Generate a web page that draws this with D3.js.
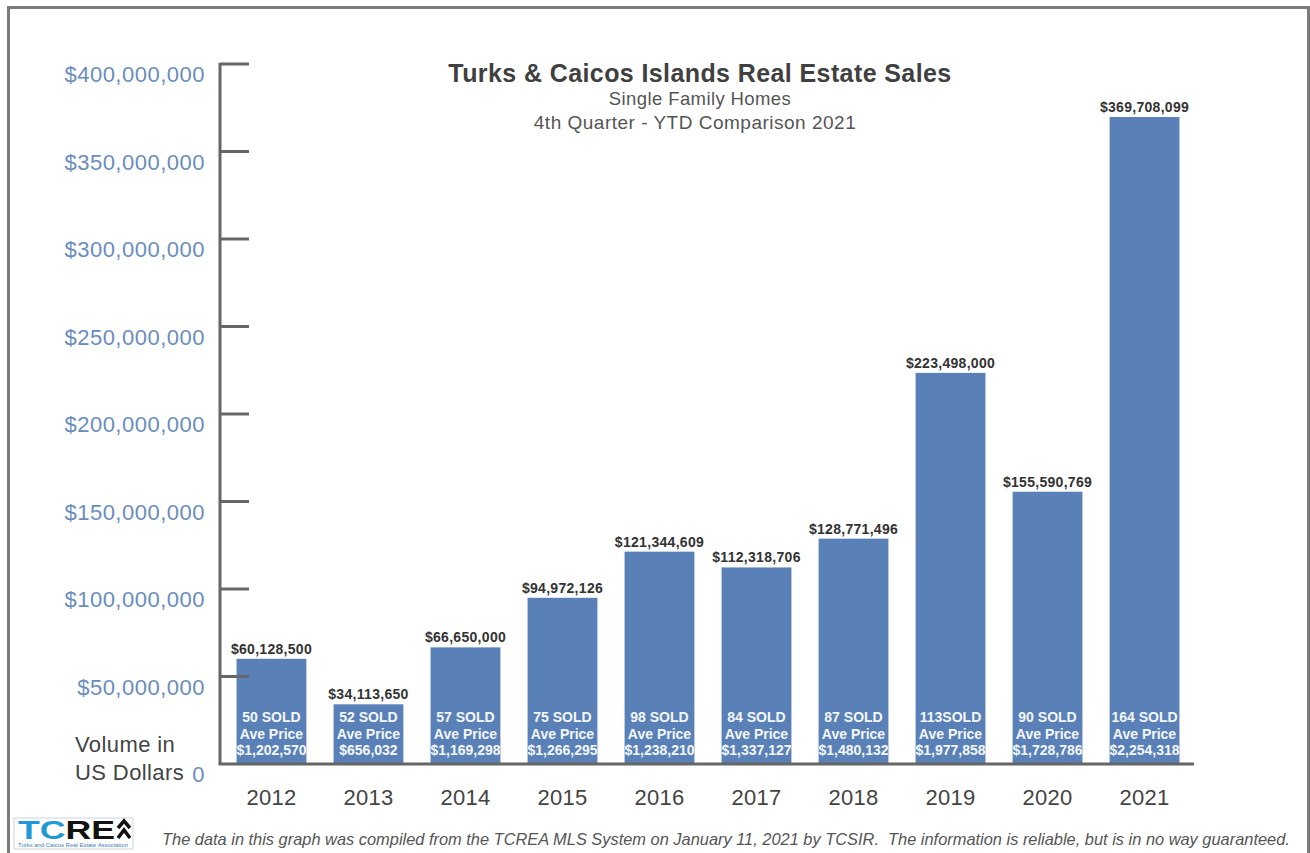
<!DOCTYPE html>
<html>
<head>
<meta charset="utf-8">
<script src="https://cdn.jsdelivr.net/npm/d3@7"></script>
<style>
  html, body { margin: 0; padding: 0; background: #fff; }
  svg { display: block; font-family: "Liberation Sans", Arial, sans-serif; }
</style>
</head>
<body>
<svg id="chart" width="1310" height="853"></svg>
<script>
// Yearly single-family home sales volume (USD)
const years = ["2012", "2013", "2014", "2015", "2016", "2017", "2018", "2019", "2020", "2021"];
const volumes = [60128500, 34113650, 66650000, 94972126, 121344609, 112318706, 128771496, 223498000, 155590769, 369708099];
const soldLabels = ["50 SOLD", "52 SOLD", "57 SOLD", "75 SOLD", "98 SOLD", "84 SOLD", "87 SOLD", "113SOLD", "90 SOLD", "164 SOLD"];
const avgPrices = ["$1,202,570", "$656,032", "$1,169,298", "$1,266,295", "$1,238,210", "$1,337,127", "$1,480,132", "$1,977,858", "$1,728,786", "$2,254,318"];
const yTicks = [0, 50000000, 100000000, 150000000, 200000000, 250000000, 300000000, 350000000, 400000000];

const svg = d3.select("#chart");
const W = 1310, H = 853;

// outer frame
svg.append("rect")
  .attr("x", 8.5).attr("y", 7.5).attr("width", W - 10).attr("height", H - 6)
  .attr("fill", "#fff").attr("stroke", "#7a7a7a").attr("stroke-width", 3);

const axisX = 220, baseY = 764, topY = 64;
const x = d3.scaleBand().domain(years).range([222, 1194]).paddingInner(0.28).paddingOuter(0.15);
const y = d3.scaleLinear().domain([0, 400000000]).range([baseY, topY]);

const fmtMoney = d => d === 0 ? "0" : "$" + d3.format(",")(d);

// bars
const g = svg.append("g");
g.selectAll("rect.bar").data(volumes).join("rect")
  .attr("class", "bar")
  .attr("x", (d, i) => x(years[i]))
  .attr("y", d => y(d))
  .attr("width", x.bandwidth())
  .attr("height", d => baseY - y(d))
  .attr("fill", "#5a81b7");

// value labels above bars
g.selectAll("text.val").data(volumes).join("text")
  .attr("class", "val")
  .attr("x", (d, i) => x(years[i]) + x.bandwidth() / 2)
  .attr("y", d => y(d) - 5)
  .attr("text-anchor", "middle")
  .attr("font-size", 14).attr("font-weight", "bold").attr("fill", "#333")
  .attr("letter-spacing", 0.3)
  .text(d => fmtMoney(d));

// in-bar labels (clipped to each bar)
const defs = svg.append("defs");
years.forEach((yr, i) => {
  defs.append("clipPath").attr("id", "clip" + i)
    .append("rect")
    .attr("x", x(yr)).attr("y", y(volumes[i]))
    .attr("width", x.bandwidth()).attr("height", baseY - y(volumes[i]));
});
const inner = g.selectAll("g.inner").data(years).join("g")
  .attr("class", "inner")
  .attr("clip-path", (d, i) => "url(#clip" + i + ")");
inner.each(function(yr, i) {
  const cx = x(yr) + x.bandwidth() / 2;
  const lines = [soldLabels[i], "Ave Price", avgPrices[i]];
  d3.select(this).selectAll("text").data(lines).join("text")
    .attr("x", cx)
    .attr("y", (d, j) => 722 + j * 16.5)
    .attr("text-anchor", "middle")
    .attr("font-size", 14).attr("font-weight", "bold").attr("fill", "#f4f7fb")
    .text(d => d);
});

// y axis line and inward ticks
const axisColor = "#666";
svg.append("line")
  .attr("x1", axisX).attr("x2", axisX).attr("y1", y(400000000) - 1).attr("y2", baseY)
  .attr("stroke", axisColor).attr("stroke-width", 3);
svg.selectAll("line.tick").data(yTicks.filter(d => d > 0)).join("line")
  .attr("class", "tick")
  .attr("x1", axisX).attr("x2", 249)
  .attr("y1", d => y(d)).attr("y2", d => y(d))
  .attr("stroke", axisColor).attr("stroke-width", 3);

// x axis baseline
svg.append("line")
  .attr("x1", axisX - 1.5).attr("x2", 1194).attr("y1", baseY).attr("y2", baseY)
  .attr("stroke", axisColor).attr("stroke-width", 3);

// y tick labels
svg.selectAll("text.ylab").data(yTicks).join("text")
  .attr("class", "ylab")
  .attr("x", 205)
  .attr("y", d => y(d) + 18)
  .attr("text-anchor", "end")
  .attr("font-size", 22).attr("fill", "#6a8dbd").attr("letter-spacing", 0.5)
  .text(d => fmtMoney(d));

// y axis title
svg.append("text").attr("x", 75).attr("y", 752)
  .attr("font-size", 22).attr("fill", "#444").attr("letter-spacing", 0.4).text("Volume in");
svg.append("text").attr("x", 75).attr("y", 780)
  .attr("font-size", 22).attr("fill", "#444").attr("letter-spacing", 0.4).text("US Dollars");

// x axis labels
svg.selectAll("text.xlab").data(years).join("text")
  .attr("class", "xlab")
  .attr("x", d => x(d) + x.bandwidth() / 2)
  .attr("y", 805)
  .attr("text-anchor", "middle")
  .attr("font-size", 22).attr("fill", "#444").attr("letter-spacing", 0.3)
  .text(d => d);

// titles
svg.append("text").attr("x", 700).attr("y", 82).attr("text-anchor", "middle")
  .attr("font-size", 25).attr("font-weight", "bold").attr("fill", "#404040").attr("letter-spacing", 0.4)
  .text("Turks & Caicos Islands Real Estate Sales");
svg.append("text").attr("x", 700).attr("y", 105).attr("text-anchor", "middle")
  .attr("font-size", 18.5).attr("fill", "#555").attr("letter-spacing", 0.4).text("Single Family Homes");
svg.append("text").attr("x", 695).attr("y", 129).attr("text-anchor", "middle")
  .attr("font-size", 19).attr("fill", "#555").attr("letter-spacing", 0.5).text("4th Quarter - YTD Comparison 2021");

// association logo
const logo = svg.append("g").attr("transform", "translate(14,818)");
logo.append("rect").attr("width", 119).attr("height", 31)
  .attr("fill", "#fff").attr("stroke", "#c9d3df").attr("stroke-width", 1);
const lt = logo.append("text").attr("x", 4).attr("y", 21)
  .attr("font-size", 25).attr("font-weight", "bold")
  .attr("textLength", 97).attr("lengthAdjust", "spacingAndGlyphs");
lt.append("tspan").attr("fill", "#1f9ad6").text("TC");
lt.append("tspan").attr("fill", "#111").text("RE");
logo.append("path").attr("d", "M104,10 L110,3 L116,10 M104,20 L110,12 L116,20")
  .attr("fill", "none").attr("stroke", "#111").attr("stroke-width", 3.5);
logo.append("text").attr("x", 4).attr("y", 28.5)
  .attr("font-size", 4.5).attr("fill", "#3a7fb8")
  .attr("textLength", 110).attr("lengthAdjust", "spacingAndGlyphs")
  .text("Turks and Caicos Real Estate Association");

// footnote
svg.append("text").attr("x", 162).attr("y", 845)
  .attr("font-size", 16.4).attr("font-style", "italic").attr("fill", "#555")
  .attr("xml:space", "preserve")
  .text("The data in this graph was compiled from the TCREA MLS System on January 11, 2021 by TCSIR.  The information is reliable, but is in no way guaranteed.");
</script>
</body>
</html>
